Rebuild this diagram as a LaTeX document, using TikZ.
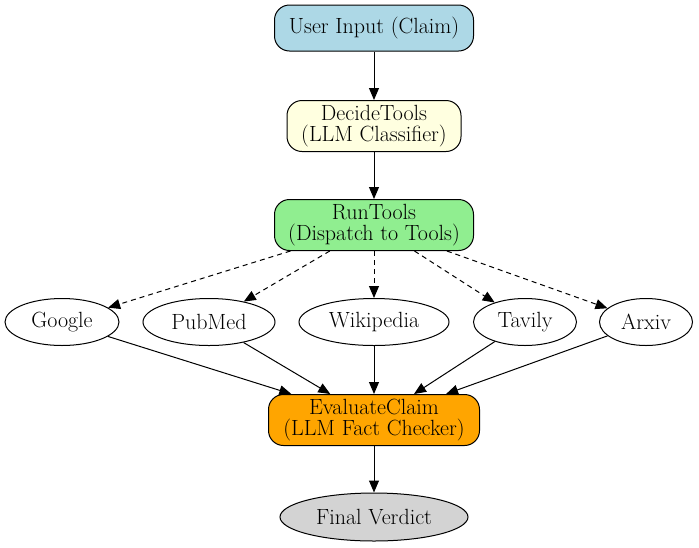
\documentclass[tikz,border=0pt]{standalone}
\usetikzlibrary{arrows.meta,shapes.geometric}
\definecolor{inputblue}{RGB}{173,216,230}
\definecolor{decideyellow}{RGB}{255,255,224}
\definecolor{rungreen}{RGB}{144,238,144}
\definecolor{evalorange}{RGB}{255,165,0}
\definecolor{verdictgray}{RGB}{211,211,211}
\begin{document}
\begin{tikzpicture}[x=1pt, y=-1pt, line width=1pt, >={Triangle[length=12pt,width=10pt]},
    every node/.style={font=\fontsize{22}{21}\selectfont, align=center, inner sep=0pt},
    stage/.style={draw, rounded corners=15pt, minimum height=51pt},
    tool/.style={draw, ellipse, minimum height=47pt}]
    \useasboundingbox (0,0) rectangle (699,547);
    % Pipeline stages
    \node[stage, fill=inputblue, minimum width=199pt, minimum height=46pt] (input) at (374,28) {User Input (Claim)};
    \node[stage, fill=decideyellow, minimum width=174pt] (decide) at (374,126) {DecideTools\\(LLM Classifier)};
    \node[stage, fill=rungreen, minimum width=199pt] (run) at (374,225) {RunTools\\(Dispatch to Tools)};
    \node[stage, fill=evalorange, minimum width=211pt] (eval) at (374,420) {EvaluateClaim\\(LLM Fact Checker)};
    \node[tool, fill=verdictgray, minimum width=188pt, minimum height=48pt] (verdict) at (374,517) {Final Verdict};
    \draw[->] (input) -- (decide);
    \draw[->] (decide) -- (run);
    \draw[->] (eval) -- (verdict);

    % Search tools
    \foreach \name/\x/\w/\txt in {google/62/114/Google, pubmed/209/132/PubMed, wiki/374/150/Wikipedia, tavily/525/103/Tavily, arxiv/646/93/Arxiv}
    {
    \node[tool, minimum width=\w pt] (\name) at (\x,322) {\txt};
    \draw[->, dash pattern=on 5pt off 4pt] (run) -- (\name);
    \draw[->] (\name) -- (eval);
    }
\end{tikzpicture}
\end{document}
